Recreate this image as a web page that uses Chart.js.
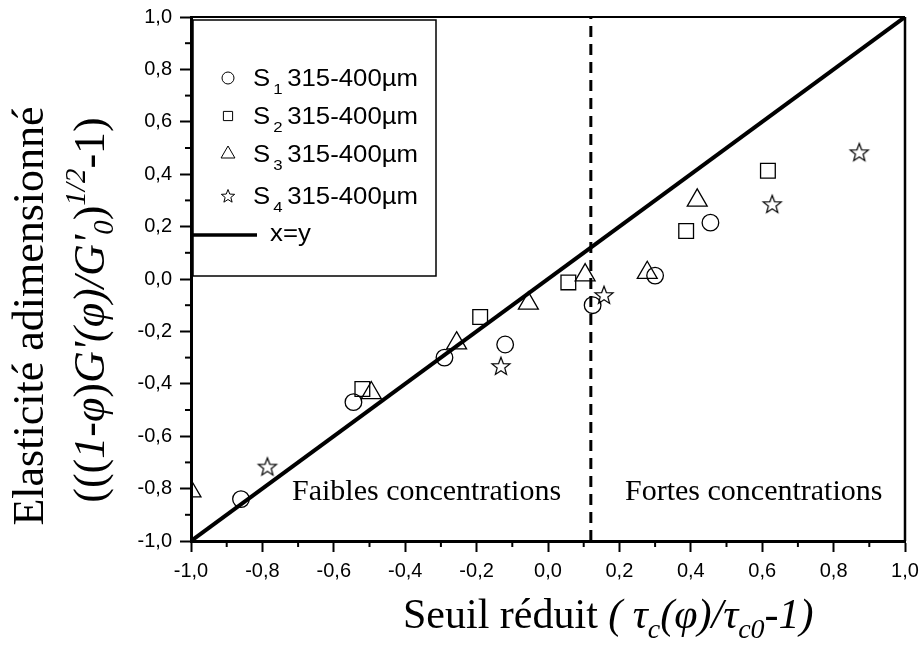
<!DOCTYPE html>
<html>
<head>
<meta charset="utf-8">
<script src="https://cdn.jsdelivr.net/npm/chart.js@4.4.0/dist/chart.umd.min.js"></script>
<style>
  html, body { margin: 0; padding: 0; background: #fff; }
  canvas { display: block; }
</style>
</head>
<body>
<canvas id="chart" width="921" height="648"></canvas>
<script>
// values
const s1X = [-0.86, -0.545, -0.29, -0.12, 0.125, 0.30, 0.455]
const s1Y = [-0.84, -0.47, -0.30, -0.25, -0.10, 0.013, 0.215]
const s2X = [-0.52, -0.19, 0.057, 0.387, 0.616]
const s2Y = [-0.42, -0.145, -0.013, 0.183, 0.413]
const s3X = [-1.0, -0.495, -0.256, -0.055, 0.104, 0.278, 0.418]
const s3Y = [-0.81, -0.435, -0.245, -0.093, 0.015, 0.024, 0.30]
const s4X = [-0.786, -0.132, 0.157, 0.628, 0.872]
const s4Y = [-0.716, -0.332, -0.061, 0.286, 0.484]
const diagX = [-1, 1]
const splitX = 0.12
const splitY = [-1, 1]
const seriesNames = ['1', '2', '3', '4']
const seriesText = '315-400\u00b5m'
const minorTicks = [-0.9, -0.7, -0.5, -0.3, -0.1, 0.1, 0.3, 0.5, 0.7, 0.9]

const pts = (xs, ys) => xs.map((x, i) => ({x: x, y: ys[i]}))
const fmt = v => (Math.abs(v) < 1e-9 ? 0 : v).toFixed(1).replace('.', ',')

function starPath(ctx, cx, cy, R, r) {
  ctx.beginPath()
  for (let i = 0; i < 10; i++) {
    const a = -Math.PI / 2 + i * Math.PI / 5
    const rad = i % 2 ? r : R
    const px = cx + rad * Math.cos(a), py = cy + rad * Math.sin(a)
    if (i) ctx.lineTo(px, py); else ctx.moveTo(px, py)
  }
  ctx.closePath()
}

function makeStar(R, lw) {
  const c = document.createElement('canvas')
  const s = Math.ceil(2 * R + 2 * lw + 2)
  c.width = c.height = s
  const g = c.getContext('2d')
  g.lineWidth = lw
  g.strokeStyle = '#000'
  starPath(g, s / 2, s / 2 + 0.8, R, R * 0.42)
  g.stroke()
  return c
}

const starImg = makeStar(9.5, 1.2)

function drawRuns(ctx, runs, x, y) {
  let cx = x
  runs.forEach(r => {
    ctx.font = (r.it ? 'italic ' : '') + r.size + 'px "Liberation Serif"'
    ctx.fillText(r.t, cx, y + (r.dy || 0))
    cx += ctx.measureText(r.t).width
  })
}

function runsWidth(ctx, runs) {
  let w = 0
  runs.forEach(r => {
    ctx.font = (r.it ? 'italic ' : '') + r.size + 'px "Liberation Serif"'
    w += ctx.measureText(r.t).width
  })
  return w
}

const yTitle2 = [
  {t: '(((', size: 44},
  {t: '1-\u03c6', size: 44, it: true},
  {t: ')', size: 44},
  {t: "G'(\u03c6)/G'", size: 44, it: true},
  {t: '0', size: 29, it: true, dy: 9},
  {t: ')', size: 44},
  {t: '1/2', size: 29, it: true, dy: -19},
  {t: '-1)', size: 44}
]

const xTitle = [
  {t: 'Seuil r\u00e9duit ', size: 42},
  {t: '( \u03c4', size: 42, it: true},
  {t: 'c', size: 28, it: true, dy: 10},
  {t: '(\u03c6)/\u03c4', size: 42, it: true},
  {t: 'c0', size: 28, it: true, dy: 10},
  {t: '-1)', size: 42, it: true}
]

// legend text is a little wider than plain Arial in the figure
function wideText(ctx, txt, x, y, font) {
  ctx.save()
  ctx.font = font
  ctx.translate(x, y)
  ctx.scale(1.12, 1)
  ctx.fillText(txt, 0, 0)
  const w = ctx.measureText(txt).width * 1.12
  ctx.restore()
  return w
}

const decorPlugin = {
  id: 'decor',
  afterDraw(chart) {
    const ctx = chart.ctx
    const a = chart.chartArea
    const xs = chart.scales.x, ys = chart.scales.y
    ctx.save()
    ctx.strokeStyle = '#000'
    ctx.fillStyle = '#000'

    // top and right frame
    ctx.lineWidth = 2
    ctx.beginPath()
    ctx.moveTo(a.left, a.top); ctx.lineTo(a.right, a.top)
    ctx.stroke()
    ctx.lineWidth = 2.5
    ctx.beginPath()
    ctx.moveTo(a.right, a.top); ctx.lineTo(a.right, a.bottom)
    ctx.stroke()

    // minor ticks
    ctx.lineWidth = 2
    minorTicks.forEach(v => {
      const px = xs.getPixelForValue(v)
      ctx.beginPath(); ctx.moveTo(px, a.bottom); ctx.lineTo(px, a.bottom + 6); ctx.stroke()
      const py = ys.getPixelForValue(v)
      ctx.beginPath(); ctx.moveTo(a.left - 6, py); ctx.lineTo(a.left, py); ctx.stroke()
    })

    // region labels
    ctx.font = '30px "Liberation Serif"'
    ctx.textBaseline = 'alphabetic'
    ctx.fillText('Faibles concentrations', 292, 500)
    ctx.fillText('Fortes concentrations', 625, 500)

    // legend box
    ctx.lineWidth = 1.5
    ctx.fillStyle = '#fff'
    ctx.fillRect(193, 20, 243, 256)
    ctx.strokeRect(193, 20, 243, 256)
    const rows = [86, 124, 162, 204]
    const styles = ['circle', 'rect', 'triangle', 'star']
    const radii = [6, 6.5, 8, 0]
    rows.forEach((by, i) => {
      const cy = by - 8
      ctx.fillStyle = 'rgba(0,0,0,0)'
      ctx.strokeStyle = '#000'
      ctx.lineWidth = 1
      if (styles[i] === 'star') {
        starPath(ctx, 228, cy + 0.5, 7, 3)
        ctx.stroke()
      } else {
        Chart.helpers.drawPoint(ctx, {pointStyle: styles[i], radius: radii[i], rotation: 0, borderWidth: 1}, 228, cy)
      }
      ctx.fillStyle = '#000'
      const sw = wideText(ctx, 'S', 253, by, '23px "Liberation Sans"')
      wideText(ctx, seriesNames[i], 253 + sw + 3, by + 8, '15px "Liberation Sans"')
      wideText(ctx, seriesText, 253 + sw + 17, by, '23px "Liberation Sans"')
    })
    ctx.lineWidth = 3.5
    ctx.beginPath(); ctx.moveTo(193, 235); ctx.lineTo(257, 235); ctx.stroke()
    wideText(ctx, 'x=y', 270, 241, '23px "Liberation Sans"')

    // axis titles
    ctx.save()
    ctx.translate(43, 316)
    ctx.rotate(-Math.PI / 2)
    ctx.font = '44px "Liberation Serif"'
    ctx.textAlign = 'center'
    ctx.fillText('Elasticit\u00e9 adimensionn\u00e9', 0, 0)
    ctx.textAlign = 'left'
    ctx.restore()

    ctx.save()
    ctx.translate(104, 310)
    ctx.rotate(-Math.PI / 2)
    drawRuns(ctx, yTitle2, -runsWidth(ctx, yTitle2) / 2, 0)
    ctx.restore()

    drawRuns(ctx, xTitle, 403, 628)
    ctx.restore()
  }
}

const pointBase = {
  showLine: false,
  borderColor: '#000',
  backgroundColor: 'rgba(0,0,0,0)',
  pointBorderWidth: 1.3,
  clip: 0
}

new Chart(document.getElementById('chart'), {
  type: 'scatter',
  data: {
    datasets: [
      Object.assign({}, pointBase, {label: 'S1', data: pts(s1X, s1Y), pointStyle: 'circle', pointRadius: 8.3}),
      Object.assign({}, pointBase, {label: 'S2', data: pts(s2X, s2Y), pointStyle: 'rect', pointRadius: 10.4}),
      Object.assign({}, pointBase, {label: 'S3', data: pts(s3X, s3Y), pointStyle: 'triangle', pointRadius: 11.5}),
      Object.assign({}, pointBase, {label: 'S4', data: pts(s4X, s4Y), pointStyle: starImg, pointRadius: 10}),
      {label: 'x=y', data: pts(diagX, diagX), showLine: true, borderColor: '#000', borderWidth: 4, pointRadius: 0, clip: 0},
      {label: 'split', data: pts([splitX, splitX], splitY), showLine: true, borderColor: '#000', borderWidth: 3, borderDash: [11, 7], pointRadius: 0, clip: 0}
    ]
  },
  options: {
    responsive: false,
    animation: false,
    devicePixelRatio: 1,
    layout: {padding: {left: 0, top: 17, right: 16, bottom: 0}},
    plugins: {legend: {display: false}, tooltip: {enabled: false}},
    scales: {
      x: {
        type: 'linear', min: -1, max: 1,
        afterFit: s => { s.height = 107; s.paddingLeft = 0; s.paddingRight = 0 },
        ticks: {stepSize: 0.2, callback: fmt, color: '#000', padding: 7, maxRotation: 0,
          font: {family: 'Liberation Sans', size: 20}},
        grid: {drawOnChartArea: false, drawTicks: true, tickLength: 11, tickWidth: 2, tickColor: '#000'},
        border: {display: true, color: '#000', width: 3}
      },
      y: {
        type: 'linear', min: -1, max: 1,
        afterFit: s => { s.width = 191; s.paddingTop = 0; s.paddingBottom = 0 },
        ticks: {stepSize: 0.2, callback: fmt, color: '#000', padding: 8,
          font: {family: 'Liberation Sans', size: 20}},
        grid: {drawOnChartArea: false, drawTicks: true, tickLength: 11, tickWidth: 2, tickColor: '#000'},
        border: {display: true, color: '#000', width: 3}
      }
    }
  },
  plugins: [decorPlugin]
})
</script>
</body>
</html>
